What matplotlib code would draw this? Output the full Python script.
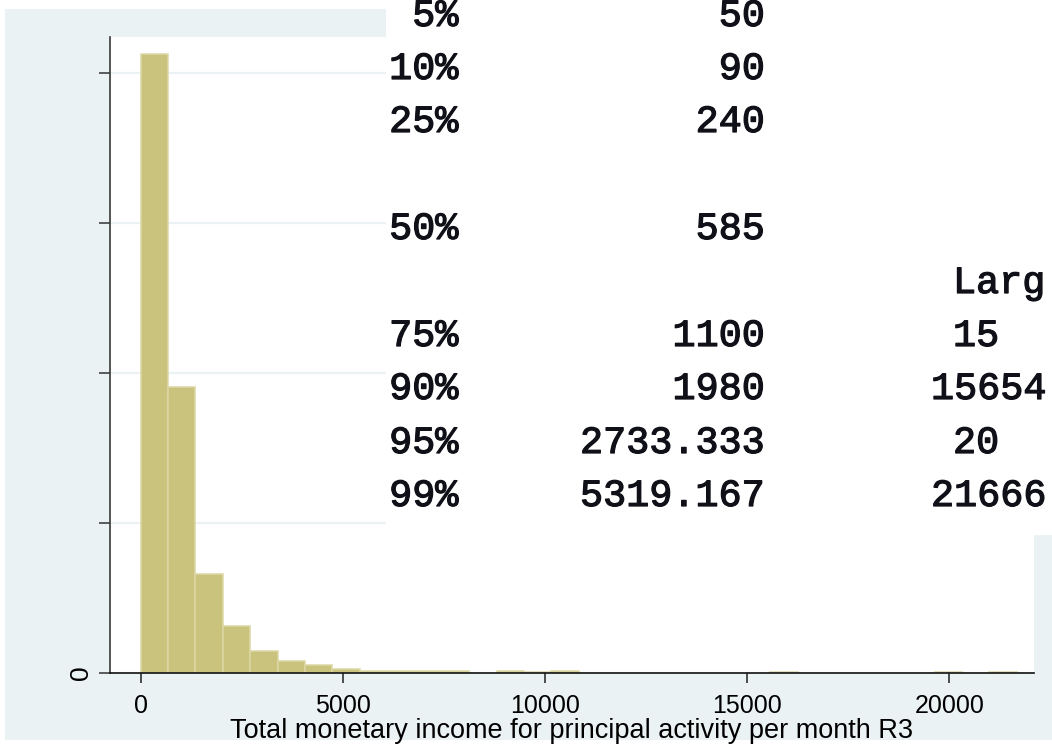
import numpy as np
import matplotlib
matplotlib.use("Agg")
import matplotlib.pyplot as plt
import matplotlib.patheffects as pe
from matplotlib.patches import Rectangle

# ---------------- data ----------------
x_max = 21666.67          # largest observation (histogram upper edge)
n_bins = 32
density = [8.26e-4, 3.81e-4, 1.32e-4, 6.27e-5, 2.93e-5, 1.60e-5, 1.07e-5, 5.9e-6,
           2.3e-6, 2.3e-6, 2.3e-6, 2.3e-6, 0.0, 2.3e-6, 0.7e-6, 2.3e-6,
           0.0, 0.0, 0.0, 0.0, 0.0, 0.0, 0.0, 2.0e-6,
           0.0, 0.0, 0.0, 0.0, 0.0, 1.6e-6, 0.0, 1.6e-6]
xticks = [0, 5000, 10000, 15000, 20000]
yticks = [0, 2e-4, 4e-4, 6e-4, 8e-4]
ytick_labels = ["0", "", "", "", ""]
xlabel = "Total monetary income for principal activity per month R3"

pct_labels = ["5%", "10%", "25%", "50%", "75%", "90%", "95%", "99%"]
pct_values = ["50", "90", "240", "585", "1100", "1980", "2733.333", "5319.167"]
# third column is cut off by the image edge in the reference: visible part only
largest_header = "Larg"
largest_values = ["15", "15654", "20", "21666"]

# ---------------- style ----------------
W, H = 1052, 744
BG = "#EAF2F3"
BAR = "#C9C37E"
BAR_EDGE = "#DCD7A4"
SANS = ["Liberation Sans", "DejaVu Sans"]

fig = plt.figure(figsize=(W / 100, H / 100), dpi=100)
fig.patch.set_facecolor("white")

# outer light graph region
fig.patches.append(Rectangle((5 / W, 1 - 740 / H), (W - 5) / W, (740 - 9) / H,
                             transform=fig.transFigure, facecolor=BG,
                             edgecolor="none", zorder=0))

# main plot axes
ax = fig.add_axes([110 / W, 1 - 673 / H, (1034 - 110) / W, (673 - 37) / H])
ax.set_facecolor("white")
ax.set_zorder(1)

edges = np.linspace(0, x_max, n_bins + 1)
bw = edges[1] - edges[0]
dens = np.array(density)
mask = dens > 0
ax.bar(edges[:-1][mask], dens[mask], width=bw, align="edge",
       color=BAR, edgecolor=BAR_EDGE, linewidth=1.1, zorder=2)

ax.set_xlim(-759, 22095)
ax.set_ylim(0, 8.48e-4)
ax.set_xticks(xticks)
ax.set_xticklabels([str(t) for t in xticks])
ax.set_yticks(yticks)
ax.set_yticklabels(ytick_labels, rotation=90, va="center")

ax.set_axisbelow(True)
ax.yaxis.grid(True, color=BG, linewidth=1.6)
ax.xaxis.grid(False)

for s in ("top", "right"):
    ax.spines[s].set_visible(False)
ax.spines["left"].set_color("#3a3a3a")
ax.spines["left"].set_linewidth(1.2)
ax.spines["bottom"].set_color("#111111")
ax.spines["bottom"].set_linewidth(1.2)

ax.tick_params(axis="x", direction="out", length=7.3, width=1.1, color="#222222",
               pad=8.0, labelsize=18, labelcolor="black")
ax.tick_params(axis="y", direction="out", length=8, width=1.1, color="#333333",
               pad=4.0, labelsize=19, labelcolor="black")
for lab in ax.get_xticklabels() + ax.get_yticklabels():
    lab.set_fontfamily(SANS)

ax.set_xlabel(xlabel, fontsize=19.5, family=SANS)
ax.xaxis.set_label_coords(0.5, (673 - 737.8) / (673 - 37))
ax.xaxis.label.set_verticalalignment("baseline")

# ---------------- overlaid summary table (pasted results window) ----------------
ov = fig.add_axes([386 / W, 1 - 535 / H, (W - 386) / W, 535 / H])
ov.set_zorder(5)
ov.set_facecolor("white")
ov.set_xlim(386, W)
ov.set_ylim(535, 0)
ov.set_xticks([])
ov.set_yticks([])
for s in ov.spines.values():
    s.set_visible(False)

mono = dict(family=["Liberation Mono", "DejaVu Sans Mono"], size=27.7,
            weight="normal", color="#101018", va="baseline",
            path_effects=[pe.withStroke(linewidth=0.9, foreground="#101018")])
row_base = [26, 79, 132, 239, 346, 399, 453, 506]
for lab, val, yb in zip(pct_labels, pct_values, row_base):
    ov.text(458.5, yb, lab, ha="right", **mono)
    ov.text(765, yb, val, ha="right", **mono)
ov.text(953, 293, largest_header, ha="left", **mono)
col3_x = [953, 931, 953, 931]
for val, x0, yb in zip(largest_values, col3_x, row_base[4:]):
    ov.text(x0, yb, val, ha="left", **mono)

fig.savefig("out.png", dpi=100, facecolor="white")
